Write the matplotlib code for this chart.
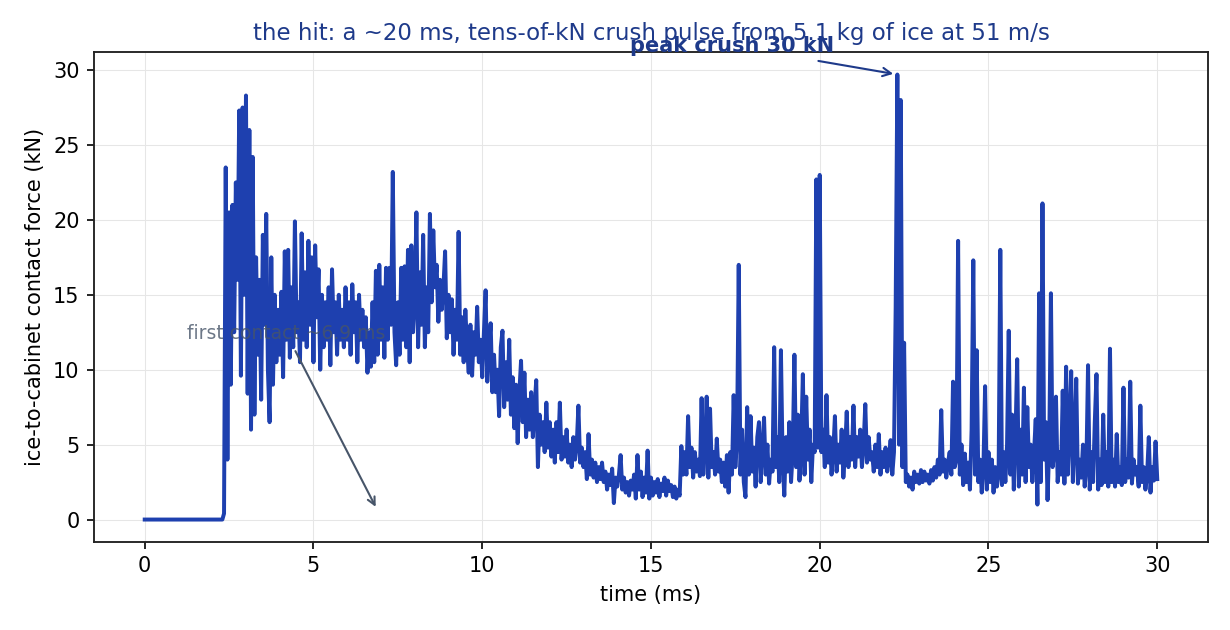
import numpy as np
from matplotlib import pyplot as plt

# sampling grid (ms); contact starts at 2.35 ms
dt = 0.05
t_contact = 2.35
time_ms = np.round(np.arange(0.0, 30.0 + dt / 2, dt), 2)

# force readings in kN, one row per ms (first row 2.35-2.95)
force_impact = [
    0.4, 23.5, 4.0, 20.5, 9.0, 21.0, 12.5, 22.5, 16.0, 27.3, 9.6, 27.5, 15.0,
    28.3, 8.4, 26.0, 6.0, 24.2, 7.0, 17.5, 11.0, 16.0, 8.0, 19.0, 13.0, 20.4, 10.0, 6.5, 17.5, 9.0, 15.0, 10.5, 14.0,
    11.0, 15.2, 9.5, 17.9, 12.0, 18.0, 10.8, 15.5, 11.5, 19.9, 12.5, 14.5, 10.5, 19.1, 12.0, 16.5, 11.5, 18.6, 13.0, 17.5,
    10.5, 18.3, 13.5, 16.7, 10.0, 15.0, 11.5, 14.5, 12.0, 15.5, 10.3, 16.7, 12.5, 14.5, 11.0, 15.0, 12.0, 14.0, 11.5, 15.5,
    12.0, 14.5, 11.0, 15.7, 12.5, 14.5, 10.5, 15.0, 12.0, 14.0, 11.5, 13.5, 9.8, 12.5, 10.2, 14.5, 10.5, 16.6, 11.0, 17.0,
    12.0, 15.5, 10.8, 16.8, 12.0, 16.8, 13.0, 23.2, 12.5, 10.3, 14.5, 11.0, 16.8, 12.0, 16.9, 11.5, 18.0, 10.5, 18.3, 12.5,
    14.5, 20.5, 11.5, 16.5, 13.0, 19.0, 11.5, 15.5, 12.5, 20.4, 14.5, 19.3, 15.5, 17.0, 13.2, 16.0, 14.0, 15.5, 17.9, 12.1,
    15.0, 12.5, 14.7, 11.0, 14.0, 12.0, 19.2, 11.0, 13.5, 10.5, 14.0, 11.5, 9.8, 13.0, 9.6, 12.5, 11.0, 14.2, 10.5, 12.0,
]

force_decay = [
    9.5, 12.5, 15.3, 9.2, 11.5, 13.1, 8.5, 11.0, 8.5, 10.0, 6.9, 11.5, 12.6, 7.5, 10.5, 8.0, 12.0, 7.0, 9.5, 6.1,
    9.0, 5.1, 8.5, 10.6, 6.5, 9.8, 5.5, 8.0, 6.0, 8.5, 5.5, 7.5, 9.3, 3.5, 7.0, 5.0, 6.5, 4.5, 7.8, 4.8,
    6.5, 4.2, 6.0, 3.8, 6.5, 4.5, 7.8, 4.0, 5.5, 4.2, 6.0, 3.8, 5.0, 3.5, 5.5, 4.0, 5.0, 7.6, 3.8, 4.8,
    3.5, 4.5, 2.7, 5.7, 3.0, 4.0, 2.8, 3.8, 2.5, 3.5, 2.7, 3.8, 2.5, 3.2, 2.0, 3.0, 2.3, 3.4, 1.1, 2.8,
    2.2, 3.0, 4.3, 2.0, 2.8, 1.8, 2.5, 1.6, 2.6, 2.0, 3.0, 1.4, 4.3, 2.0, 3.2, 1.5, 2.8, 1.8, 4.6, 1.4,
    2.8, 1.6, 2.5, 1.8, 2.7, 1.5, 2.4, 1.9, 2.8, 1.6, 2.6, 1.9, 2.3, 1.5, 2.2, 1.4, 2.0, 1.6, 4.9, 3.0,
]

force_tail = [
    4.5, 3.0, 6.9, 3.5, 4.8, 2.8, 4.5, 3.2, 4.0, 2.9, 8.1, 3.0, 4.8, 8.2, 2.8, 7.4, 3.5, 4.5, 3.0, 5.4,
    3.2, 4.0, 2.5, 3.8, 2.2, 4.3, 1.8, 4.5, 3.0, 8.3, 3.5, 5.5, 17.0, 3.0, 6.0, 2.5, 1.5, 7.5, 3.0, 6.9,
    3.2, 4.8, 2.2, 5.5, 6.5, 2.5, 4.5, 6.8, 3.0, 5.0, 2.4, 4.0, 3.2, 11.5, 3.5, 5.5, 2.5, 11.3, 4.0, 1.6,
    5.5, 3.2, 6.5, 2.5, 4.5, 11.0, 3.5, 7.0, 2.6, 5.0, 9.7, 3.0, 8.2, 4.0, 6.0, 2.5, 5.0, 4.5, 22.7, 4.8,
    23.0, 4.5, 6.0, 3.5, 8.3, 3.8, 5.5, 3.0, 4.5, 6.9, 3.2, 5.0, 3.8, 6.0, 2.8, 4.5, 7.2, 3.5, 5.5, 4.0,
    7.6, 3.5, 5.5, 4.2, 6.0, 3.5, 5.0, 7.7, 3.8, 5.5, 4.0, 4.5, 3.2, 5.0, 3.5, 5.7, 3.0, 4.5, 3.5, 4.8,
    3.2, 4.0, 5.3, 3.0, 4.5, 14.1, 29.7, 5.0, 28.0, 3.5, 11.8, 2.5, 3.0, 2.2, 2.8, 2.0, 3.2, 2.5, 3.0, 2.4,
    3.3, 2.5, 3.2, 2.6, 3.0, 2.4, 3.3, 2.6, 3.5, 2.8, 4.0, 3.0, 7.3, 3.2, 4.0, 2.8, 3.8, 4.5, 3.0, 9.2,
    3.5, 4.0, 18.6, 3.0, 5.0, 2.3, 4.4, 2.5, 3.8, 2.0, 6.0, 17.3, 3.0, 11.3, 2.5, 4.0, 1.8, 3.5, 8.9, 2.0,
    4.5, 2.5, 4.0, 1.8, 3.5, 2.2, 3.0, 18.0, 2.3, 4.5, 2.5, 5.0, 12.6, 3.0, 7.0, 2.0, 5.5, 10.7, 2.2, 6.0,
    3.0, 8.8, 2.5, 7.5, 3.5, 5.0, 2.5, 4.5, 6.7, 1.0, 15.1, 2.5, 21.1, 4.0, 6.5, 1.3, 5.0, 15.1, 3.5, 4.5,
    8.2, 2.5, 4.5, 3.0, 8.6, 2.4, 10.2, 3.0, 6.0, 9.9, 2.5, 5.0, 9.4, 2.4, 4.0, 2.8, 5.0, 2.2, 3.5, 10.3,
    2.0, 4.5, 2.5, 6.5, 9.7, 2.0, 4.0, 2.3, 7.0, 2.5, 4.5, 2.2, 11.4, 2.5, 4.0, 2.2, 5.7, 2.5, 3.5, 2.3,
    8.8, 2.5, 4.0, 2.8, 9.2, 2.4, 4.0, 3.0, 3.5, 2.2, 7.6, 2.5, 3.5, 2.0, 3.0, 5.5, 1.8, 3.5, 2.6, 5.2,
    2.7,
]

n_pre = int(np.sum(time_ms < t_contact))
force_kN = np.array([0.0] * n_pre + force_impact + force_decay + force_tail)
assert len(force_kN) == len(time_ms), (len(force_kN), len(time_ms))

peak_idx = int(np.argmax(force_kN))
peak_t, peak_f = time_ms[peak_idx], force_kN[peak_idx]

line_color = "#1e40af"
navy = "#1e3a8a"
slate = "#475569"

fig, ax = plt.subplots(figsize=(8.2, 4.2), dpi=150)
ax.plot(time_ms, force_kN, color=line_color, lw=1.9, zorder=2)

ax.grid(True, color="#e6e6e6", lw=0.5, zorder=0)
ax.set_axisbelow(True)
for sp in ax.spines.values():
    sp.set_color("#222222")
    sp.set_linewidth(0.9)

ax.set_xlabel("time (ms)", fontsize=10)
ax.set_ylabel("ice-to-cabinet contact force (kN)", fontsize=10)
ax.set_title("the hit: a ~20 ms, tens-of-kN crush pulse from 5.1 kg of ice at 51 m/s",
             fontsize=11, color=navy)
ax.tick_params(labelsize=10)

ax.annotate("peak crush %.0f kN" % peak_f, xy=(peak_t, peak_f), xytext=(17.4, 31.6),
            textcoords="data", ha="center", va="center", fontsize=10,
            fontweight="bold", color=navy, annotation_clip=False, zorder=5,
            arrowprops=dict(arrowstyle="->", color=navy, lw=1.0))
ax.annotate("first contact ~6.9 ms", xy=(6.9, 0.6), xytext=(4.2, 12.4),
            textcoords="data", ha="center", va="center", fontsize=9,
            color=slate, alpha=0.8, zorder=5,
            arrowprops=dict(arrowstyle="->", color=slate, lw=1.0))

fig.subplots_adjust(left=0.0765, right=0.982, top=0.917, bottom=0.14)
fig.savefig("out.png", dpi=150)
